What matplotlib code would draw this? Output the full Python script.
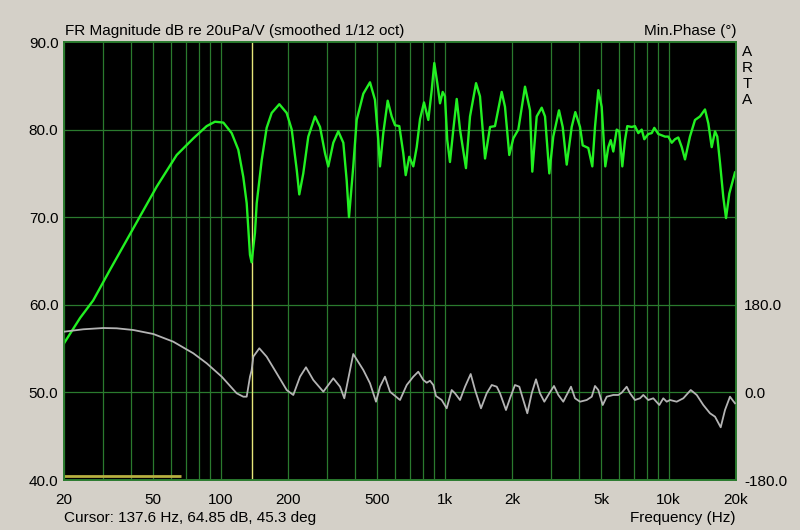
import matplotlib
matplotlib.use("Agg")
import matplotlib.pyplot as plt
from matplotlib.ticker import FixedLocator, NullFormatter, NullLocator

# Magnitude response (green)
freq_mag = [20, 23.6, 27.0, 32.1, 38.1, 43.7, 51.9, 63.7, 75.6, 86.7, 94.4, 102.9,
            112.1, 120.0, 126.3, 130.8, 135.3, 137.6, 142.4, 145.0, 152.6, 160.6,
            169.1, 182.9, 197.3, 207.8, 218.8, 224.6, 234.0, 246.4, 264.0, 278.0,
            292.6, 302.6, 318.6, 335.4, 353.2, 365.6, 374.4, 391.2, 405.2, 433.8,
            464.6, 489.0, 506.0, 514.8, 532.6, 557.2, 580.6, 600.8, 628.0, 654.2,
            670.6, 695.8, 725.2, 751.0, 777.0, 809.4, 846.0, 876.2, 899.8, 928.0,
            954.2, 980.8, 1004, 1028, 1057, 1094, 1133, 1172, 1246, 1299, 1382,
            1439, 1516, 1596, 1679, 1799, 1861, 1945, 2027, 2134, 2286, 2407, 2464,
            2578, 2714, 2808, 2935, 3057, 3242, 3368, 3510, 3694, 3834, 4024, 4137,
            4382, 4566, 4694, 4857, 5028, 5219, 5382, 5516, 5666, 5868, 6026, 6215,
            6390, 6542, 6846, 7080, 7326, 7586, 7792, 8120, 8410, 8638, 9000, 9640,
            9974, 10330, 10680, 11050, 11450, 11840, 12460, 13120, 13810, 14540,
            15050, 15580, 16120, 16500, 16970, 17550, 18050, 18670, 19790]
mag_db = [55.6, 58.5, 60.5, 64.0, 67.4, 70.1, 73.5, 77.1, 79.0, 80.4, 80.9, 80.8,
          79.6, 77.7, 74.6, 71.6, 65.7, 64.85, 68.2, 71.6, 76.5, 80.2,
          81.9, 82.9, 81.9, 80.0, 75.4, 72.6, 75.0, 79.2, 81.5, 80.3,
          77.3, 75.8, 78.5, 79.8, 78.5, 74.2, 70.0, 75.8, 81.1, 84.1,
          85.4, 83.4, 78.8, 75.8, 79.6, 83.3, 81.5, 80.5, 80.4, 77.3,
          74.8, 76.9, 75.8, 78.0, 81.2, 83.1, 81.1, 84.5, 87.6, 85.3,
          83.0, 84.3, 83.8, 78.8, 76.3, 80.0, 83.5, 80.0, 75.6, 81.5, 85.3,
          83.8, 76.7, 80.3, 80.4, 84.3, 82.6, 77.1, 79.0, 80.0, 84.9, 82.2, 75.2,
          81.5, 82.5, 81.5, 75.0, 79.2, 82.2, 80.3, 76.0, 80.3, 82.0, 80.3, 78.2,
          77.9, 75.8, 80.3, 84.5, 82.6, 75.8, 78.0, 78.8, 77.5, 80.0, 79.8, 75.8,
          78.8, 80.4, 80.3, 80.4, 79.6, 80.0, 78.9, 79.5, 79.6, 80.2, 79.5, 79.2,
          79.2, 78.5, 78.9, 79.1, 78.0, 76.6, 79.2, 81.1, 81.5, 82.3,
          80.7, 78.0, 79.8, 79.2, 76.2, 72.3, 69.9, 72.7, 75.1]

# Minimum phase (grey), degrees
freq_ph = [20, 24.4, 30.0, 34.4, 40.8, 50.1, 61.5, 75.6, 86.7, 101.2, 118.0, 126.3,
           130.8, 135.3, 137.6, 140.0, 148.9, 160.6, 178.1, 197.3, 211.2, 226.3,
           240.6, 259.4, 287.6, 318.6, 341.4, 356.8, 391.2, 433.8, 464.6, 494.2,
           514.8, 542.0, 570.6, 632.5, 677.8, 725.2, 763.2, 803.6, 832.4, 861.0,
           890.8, 915.8, 971.2, 1022, 1076, 1113, 1172, 1234, 1308, 1368, 1454,
           1542, 1624, 1710, 1768, 1880, 1959, 2062, 2156, 2246, 2341, 2449, 2560,
           2667, 2788, 2935, 3080, 3220, 3388, 3510, 3668, 3822, 4024, 4312, 4540,
           4694, 4857, 5082, 5296, 5666, 5966, 6178, 6502, 6726, 7080, 7454, 7712,
           8120, 8548, 9092, 9472, 9812, 10150, 10870, 11640, 12560, 13360, 14290,
           15310, 16120, 17090, 17860, 18800, 19790]
phase_deg = [124.7, 129.7, 132.3, 131.7, 128.2, 120.0, 104.2, 80.3, 59.8, 32.3, -1.8, -8.8,
             -8.8, 32.3, 45.3, 73.4, 90.6, 73.4, 39.2, 4.9, -5.3, 32.3,
             51.6, 25.5, 1.4, 29.0, 11.7, -12.1, 78.9, 46.0, 18.7, -19.1,
             11.7, 32.3, 1.4, -15.6, 15.2, 32.3, 42.5, 25.5, 19.9, 24.0,
             15.2, -7.4, -15.6, -32.7, 4.9, -1.8, -15.6, 11.7, 37.8, 4.9, -32.7,
             -1.8, 15.2, 11.7, -1.8, -36.2, -12.1, 15.2, 11.7, -15.6, -42.9, -1.8, 26.9,
             -1.8, -19.1, -1.8, 13.2, -5.3, -19.1, -5.3, 11.7, -12.1, -19.1, -15.6, -8.8,
             13.2, 4.9, -25.9, -8.8, -5.3, -5.3, -0.6, 11.7, -1.8, -15.6, -12.1, -5.3,
             -15.6, -12.1, -25.9, -12.1, -19.1, -15.6, -19.1, -12.1, 4.9, -5.3, -25.9,
             -42.9, -49.9, -71.7, -36.2, -8.8, -22.4]

x_ticks = [20, 50, 100, 200, 500, 1000, 2000, 5000, 10000, 20000]
x_labels = ["20", "50", "100", "200", "500", "1k", "2k", "5k", "10k", "20k"]
db_ticks = [40, 50, 60, 70, 80, 90]
ph_ticks = [-180, 0, 180]

cursor_hz = 137.6
window_end_hz = 66.5

bg = "#D4D0C8"
grid_col = "#2A7A2E"
fs = 11
plt.rcParams['font.family'] = ['Liberation Sans', 'DejaVu Sans']

fig = plt.figure(figsize=(8, 5.3), dpi=100, facecolor=bg)
ax = fig.add_axes([64 / 800, 50 / 530, 672 / 800, 438 / 530])
ax.set_facecolor("black")
ax.set_xscale("log")
ax.set_xlim(20, 20000)
ax.set_ylim(40, 90)

# grid lines: every decade step + 10 dB
minor = [m * 10 ** d for d in range(1, 5) for m in range(1, 10) if 20 <= m * 10 ** d <= 20000]
for f in minor:
    ax.axvline(f, color=grid_col, lw=0.9, zorder=1)
for v in db_ticks[1:-1]:
    ax.axhline(v, color=grid_col, lw=0.9, zorder=1)
for s in ax.spines.values():
    s.set_color(grid_col)
    s.set_linewidth(1.2)

ax.xaxis.set_major_locator(FixedLocator(x_ticks))
ax.xaxis.set_minor_locator(NullLocator())
ax.xaxis.set_minor_formatter(NullFormatter())
ax.set_xticklabels(x_labels)
ax.set_yticks(db_ticks)
ax.set_yticklabels([f"{v:.1f}" for v in db_ticks])
ax.tick_params(axis="y", length=0, labelsize=fs, pad=4)
ax.tick_params(axis="x", length=0, labelsize=fs, pad=9)

# cursor and window markers
ax.axvline(cursor_hz, color="#E6E67A", lw=1.0, zorder=2)
ax.hlines(40.45, 20, window_end_hz, color="#B8B040", lw=2, zorder=2)

ax.plot(freq_mag, mag_db, color="#22F022", lw=1.7, zorder=4)

ax2 = ax.twinx()
ax2.set_ylim(-180, 720)
ax2.set_yticks(ph_ticks)
ax2.set_yticklabels([f"{v:.1f}" for v in ph_ticks])
ax2.tick_params(length=0, labelsize=fs, pad=6)
for s in ax2.spines.values():
    s.set_color(grid_col)
    s.set_linewidth(1.2)
ax2.plot(freq_ph, phase_deg, color="#B4B4B4", lw=1.3, zorder=3)

# captions
fig.text(65 / 800, 1 - 31 / 530, "FR Magnitude dB re 20uPa/V (smoothed 1/12 oct)",
         fontsize=fs, va="center", ha="left")
fig.text(736 / 800, 1 - 31 / 530, "Min.Phase (°)", fontsize=fs, va="center", ha="right")
for i, ch in enumerate("ARTA"):
    fig.text(747 / 800, 1 - (52 + 16 * i) / 530, ch, fontsize=fs, va="center", ha="center")
fig.text(64 / 800, 1 - 518 / 530, f"Cursor: {cursor_hz} Hz, 64.85 dB, 45.3 deg",
         fontsize=fs, va="center", ha="left")
fig.text(736 / 800, 1 - 518 / 530, "Frequency (Hz)", fontsize=fs, va="center", ha="right")

fig.savefig("out.png", dpi=100, facecolor=bg)
